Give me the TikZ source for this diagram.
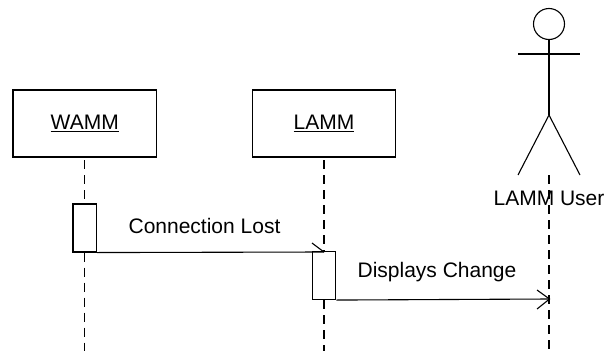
\documentclass[tikz,border=0pt]{standalone}
\usepackage{fontspec}
\setmainfont{Liberation Sans}
\tikzset{
  every node/.style={font=\fontsize{21}{24}\selectfont, inner sep=0pt},
  objbox/.style={draw, line width=1.1pt, minimum width=143.5pt, minimum height=67pt},
  actbox/.style={draw, line width=1.1pt, fill=white, minimum width=23.5pt, minimum height=48pt},
  life/.style={line width=1.1pt, dash pattern=on 9pt off 6pt},
  msg/.style={line width=1.1pt},
  limb/.style={line width=1.1pt}
}
\begin{document}
\begin{tikzpicture}[x=1pt,y=-1pt]
\useasboundingbox (0,0) rectangle (605,351);
\node[objbox] (wamm) at (84.75,123.5) {\underline{WAMM}};
\node[objbox] (lamm) at (324,123.5) {\underline{LAMM}};
\node[actbox] (act1) at (84.75,228) {};
\node[actbox] (act2) at (324,275.5) {};
% actor
\node[draw, circle, line width=1.1pt, minimum size=31pt] (head) at (549,24) {};
\coordinate (neck) at (549,54);
\coordinate (armL) at (518,54);
\coordinate (armR) at (580,54);
\coordinate (hip) at (549,115);
\coordinate (legL) at (518,175);
\coordinate (legR) at (580,175);
\draw[limb] (head.south) -- (hip);
\draw[limb] (armL) -- (armR);
\draw[limb] (legL) -- (hip) -- (legR);
\node[anchor=base] (user) at (549,205) {LAMM User};
% lifelines
\coordinate (w0) at (84.75,160);
\coordinate (w1) at (84.75,351);
\coordinate (l0) at (324,160);
\coordinate (l1) at (324,351);
\coordinate (u0) at (549,175);
\coordinate (u1) at (549,351);
\draw[life] (w0) -- (act1.north -| w0);
\draw[life] (act1.south -| w0) -- (w1);
\draw[life] (l0) -- (act2.north -| l0);
\draw[life] (act2.south -| l0) -- (l1);
\draw[life] (u0) -- (u1);
% messages
\coordinate (t1) at (324,252);
\coordinate (b1) at (312,243);
\coordinate (t2) at (549.5,299);
\coordinate (b2a) at (537,290);
\coordinate (b2b) at (537,309);
\draw[msg] (act1.south east) -- (t1);
\draw[msg] (b1) -- (t1);
\draw[msg] (act2.south east) -- (t2);
\draw[msg] (b2a) -- (t2) -- (b2b);
\node[anchor=base] (lbl1) at (204.5,233) {Connection Lost};
\node[anchor=base] (lbl2) at (437,277) {Displays Change};
\end{tikzpicture}
\end{document}
